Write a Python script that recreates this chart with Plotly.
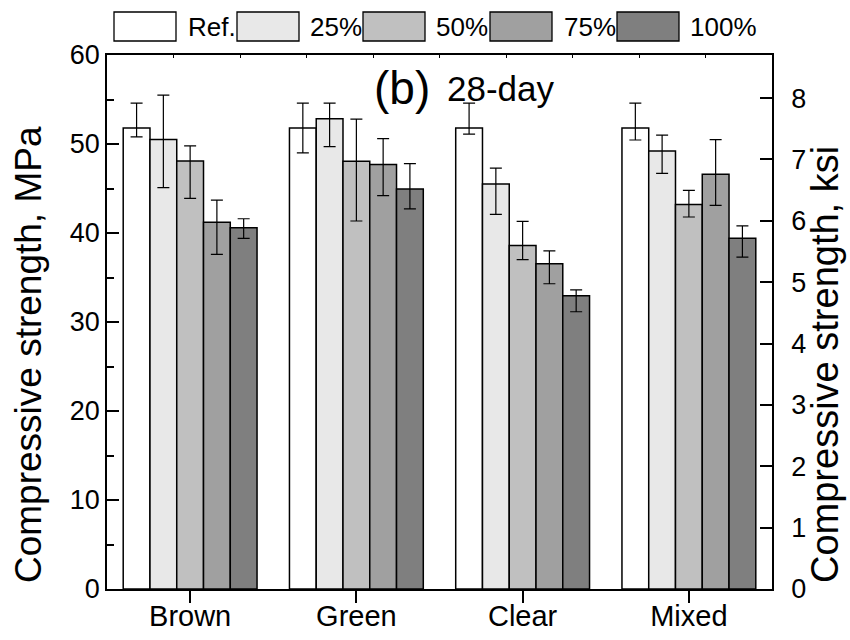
import plotly.graph_objects as go

categories = ["Brown", "Green", "Clear", "Mixed"]
series_names = ["Ref.", "25%", "50%", "75%", "100%"]

ref_vals = [51.8, 51.8, 51.8, 51.8]
p25_vals = [50.5, 52.85, 45.5, 49.2]
p50_vals = [48.1, 48.05, 38.6, 43.2]
p75_vals = [41.2, 47.7, 36.55, 46.6]
p100_vals = [40.6, 44.95, 32.95, 39.4]

ref_err_up = [2.8, 2.8, 2.8, 2.8]
p25_err_up = [5.0, 1.75, 1.8, 1.8]
p50_err_up = [1.7, 4.75, 2.7, 1.6]
p75_err_up = [2.5, 2.9, 1.45, 3.9]
p100_err_up = [1.0, 2.85, 0.65, 1.4]

ref_err_dn = [1.0, 2.8, 0.7, 1.35]
p25_err_dn = [5.4, 3.15, 3.4, 2.5]
p50_err_dn = [4.2, 6.7, 1.6, 1.4]
p75_err_dn = [3.6, 3.5, 2.25, 3.5]
p100_err_dn = [1.2, 2.25, 1.8, 2.1]

MPA_PER_KSI = 6.895

values = [ref_vals, p25_vals, p50_vals, p75_vals, p100_vals]
err_up = [ref_err_up, p25_err_up, p50_err_up, p75_err_up, p100_err_up]
err_dn = [ref_err_dn, p25_err_dn, p50_err_dn, p75_err_dn, p100_err_dn]
colors = ["#ffffff", "#e8e8e8", "#c0c0c0", "#a0a0a0", "#7f7f7f"]

FONT = "Liberation Sans, Arial, sans-serif"

fig = go.Figure()
for name, v, eu, ed, c in zip(series_names, values, err_up, err_dn, colors):
    fig.add_trace(go.Bar(
        x=categories, y=v, name=name,
        marker=dict(color=c, line=dict(color="black", width=1.5)),
        error_y=dict(type="data", symmetric=False, array=eu, arrayminus=ed,
                     color="black", thickness=1.2, width=6),
        showlegend=False,
    ))

# invisible trace to activate the secondary (ksi) axis
fig.add_trace(go.Scatter(x=categories, y=[v / MPA_PER_KSI for v in ref_vals],
                         yaxis="y2", mode="markers", marker=dict(opacity=0),
                         showlegend=False, hoverinfo="skip"))
# invisible trace to activate the top axis with small ticks
fig.add_trace(go.Scatter(x=[0, 10], y=[0, 0], xaxis="x2", mode="markers",
                         marker=dict(opacity=0), showlegend=False, hoverinfo="skip"))

# plot area in pixels
L, R, T, B = 107, 772, 55, 589
W, H = 850, 640

def px(x):
    return (x - L) / (R - L)

def py(y):
    return (B - y) / (B - T)

# custom legend (wide boxes as in the original)
box_left = [114, 237, 363, 490, 617]
box_w = 62
text_left = [186, 308, 434, 562, 688]
shapes = []
annotations = []
for i, (name, c) in enumerate(zip(series_names, colors)):
    shapes.append(dict(type="rect", xref="paper", yref="paper",
                       x0=px(box_left[i]), x1=px(box_left[i] + box_w),
                       y0=py(41), y1=py(12),
                       fillcolor=c, line=dict(color="black", width=1.3)))
    annotations.append(dict(xref="paper", yref="paper", x=px(text_left[i]), y=py(27),
                            xanchor="left", yanchor="middle", showarrow=False,
                            text=name, font=dict(size=26, color="black", family=FONT)))

annotations.append(dict(xref="paper", yref="paper", x=px(372), y=py(88),
                        xanchor="left", yanchor="middle", showarrow=False,
                        text="(b)", font=dict(size=46, color="black", family=FONT)))
annotations.append(dict(xref="paper", yref="paper", x=px(445), y=py(88),
                        xanchor="left", yanchor="middle", showarrow=False,
                        text="28-day", font=dict(size=35, color="black", family=FONT)))

# axis titles (placed as rotated text, as in the original)
annotations.append(dict(xref="paper", yref="paper", x=px(28), y=py(355),
                        xanchor="center", yanchor="middle", showarrow=False, textangle=-90,
                        text="Compressive strength, MPa",
                        font=dict(size=37, color="black", family=FONT)))
annotations.append(dict(xref="paper", yref="paper", x=px(825), y=py(365),
                        xanchor="center", yanchor="middle", showarrow=False, textangle=-90,
                        text="Compressive strength, ksi",
                        font=dict(size=38, color="black", family=FONT)))

fig.update_layout(
    width=W, height=H,
    margin=dict(l=L, r=W - R, t=T, b=H - B, pad=0),
    paper_bgcolor="white", plot_bgcolor="white",
    barmode="group", bargap=0.195, bargroupgap=0,
    font=dict(family=FONT, color="black", size=26),
    xaxis=dict(range=[-0.5, 3.5], showline=True, linecolor="black", linewidth=1.5,
               mirror=True, ticks="outside", ticklen=12, tickwidth=1.5, tickcolor="black",
               ticklabelstandoff=-12, automargin=False,
               tickfont=dict(size=29), showgrid=False, zeroline=False),
    xaxis2=dict(range=[0, 10], dtick=1, overlaying="x", side="top", showline=False,
                ticks="inside", ticklen=3, tickwidth=1.2, tickcolor="black", automargin=False,
                showticklabels=False, showgrid=False, zeroline=False),
    yaxis=dict(range=[0, 60], dtick=10, showline=True, linecolor="black", linewidth=1.5,
               ticks="inside", ticklen=12, tickwidth=1.5, tickcolor="black", automargin=False,
               minor=dict(dtick=5, ticks="inside", ticklen=7, tickwidth=1.5, tickcolor="black"),
               tickfont=dict(size=27), showgrid=False, zeroline=False),
    yaxis2=dict(range=[0, 60 / MPA_PER_KSI], dtick=1, overlaying="y", side="right",
                showline=True, linecolor="black", linewidth=1.5,
                ticks="inside", ticklen=12, tickwidth=1.5, tickcolor="black",
                ticklabelstandoff=12, automargin=False,
                tickfont=dict(size=27), showgrid=False, zeroline=False),
    shapes=shapes,
    annotations=annotations,
)

fig.write_html("out.html")
